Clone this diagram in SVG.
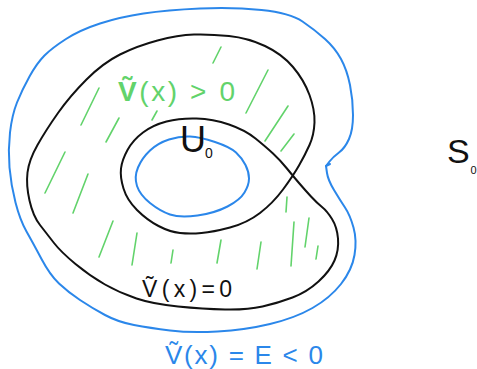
<svg xmlns="http://www.w3.org/2000/svg" width="477" height="369" viewBox="0 0 477 369">
<style>
.blk{fill:none;stroke:#111;stroke-width:2;stroke-linecap:round;stroke-linejoin:round}
.blu{fill:none;stroke:#2b87ea;stroke-width:2;stroke-linecap:round;stroke-linejoin:round}
.grn{fill:none;stroke:#62d36b;stroke-width:1.6;stroke-linecap:round}
text{font-family:"Liberation Sans","DejaVu Sans",sans-serif}
</style>
<rect width="477" height="369" fill="#fff"/>
<g id="connectors">
<path id="outer-level-E" class="blu" d="M 100,23.5 Q 120,17 143.5,13.5 Q 167,10 200,8.5 Q 233,7 261.5,10 Q 290,13 302.5,21.5 Q 315,30 325,39 Q 335,48 341,59 Q 347,70 350,85 Q 353,100 353,115 Q 353,130 349,139 Q 345,148 339,152.5 Q 333,157 329.5,161.5 L 326,166 L 327,173 Q 328,180 334,190 Q 340,200 345,207.5 Q 350,215 353.5,227.5 Q 357,240 354.5,255 Q 352,270 341,284 Q 330,298 312.5,308 Q 295,318 270,324 Q 245,330 217.5,331.5 Q 190,333 170,330.5 Q 150,328 134,325 Q 118,322 105,315 Q 92,308 80,300 Q 68,292 59,283.5 Q 50,275 41.5,259 Q 33,243 26.5,231.5 Q 20,220 15.5,202.5 Q 11,185 9.5,167.5 Q 8,150 10,132.5 Q 12,115 17,102.5 Q 22,90 29.5,76.5 Q 37,63 44.5,55.5 Q 52,48 66,39 Q 80,30 100,23.5 Z"/>
<path class="blu" d="M 326,166 L 330,164"/>
<path id="zero-level" class="blk" d="M 260,213 Q 273,203 283,189.5 Q 293,176 299,165.5 Q 305,155 309.5,145 Q 314,135 314.5,122.5 Q 315,110 309.5,95 Q 304,80 293,67 Q 282,54 265,46 Q 248,38 229,36 Q 210,34 194,34.5 Q 178,35 157.5,40.5 Q 137,46 120,54.5 Q 103,63 86.5,79.5 Q 70,96 58,113 Q 46,130 37.5,145 Q 29,160 27.5,172.5 Q 26,185 29.5,200.5 Q 33,216 40,225 Q 47,234 54,243 Q 61,252 75.5,264 Q 90,276 105,284.5 Q 120,293 136.5,298.5 Q 153,304 178,306.5 Q 203,309 225,309.5 Q 247,310 262.5,306.5 Q 278,303 292.5,297.5 Q 307,292 318.5,281.5 Q 330,271 334.5,260.5 Q 339,250 338,238.5 Q 337,227 332,219 Q 327,211 322,207 Q 317,203 311,196.5 Q 305,190 299,183 Q 293,176 286.5,168 Q 280,160 273,153.5 Q 266,147 255.5,138.5 Q 245,130 229,124.5 Q 213,119 196.5,118.5 Q 180,118 166.5,121.5 Q 153,125 143,132.5 Q 133,140 127.5,150 Q 122,160 121,168.5 Q 120,177 123.5,188.5 Q 127,200 137,210 Q 147,220 158.5,226 Q 170,232 180,233 Q 190,234 201.5,233 Q 213,232 230,227.5 Q 247,223 260,213 Z"/>
<path id="inner-level-E" class="blu" d="M 190,136.5 Q 200,137 215,142 Q 230,147 236,152.5 Q 242,158 245.5,165 Q 249,172 249,178.5 Q 249,185 244.5,192.5 Q 240,200 227.5,206.5 Q 215,213 197.5,215.5 Q 180,218 170,214.5 Q 160,211 150,203 Q 140,195 137,186 Q 134,177 138,167.5 Q 142,158 150,150.5 Q 158,143 169,139.5 Q 180,136 190,136.5 Z"/>
</g>
<g id="hatching">
<path class="grn" d="M221,47 L213,63 M268,70 L246,113 M288,106 L265,141 M294,134 L281,151 M99,88 L81,125 M119,118 L106,142 M157,111 L152,120 M65,152 L45,193 M88,174 L73,213 M113,221 L99,257 M137,233 L132,265 M173,250 L171,263 M221,240 L217,263 M261,242 L257,269 M287,197 L286,212 M294,222 L291,266 M309,218 L305,247 M318,246 L316,259"/>
</g>
<g id="label-positive">
<text x="118" y="101" font-size="28" fill="#62d36b" textLength="117" lengthAdjust="spacing"><tspan font-weight="bold">Ṽ</tspan>(x) &gt; 0</text>
</g>
<g id="label-U0">
<text x="180" y="152" font-size="36" fill="#111">U</text>
<text x="205" y="158" font-size="14" fill="#111">0</text>
</g>
<g id="label-S0">
<text x="447" y="163" font-size="34" fill="#111">S</text>
<text x="470.5" y="174" font-size="11" fill="#111">0</text>
</g>
<g id="label-zero">
<text x="142" y="297" font-size="23" fill="#111" textLength="90" lengthAdjust="spacing">Ṽ(x)=0</text>
</g>
<g id="label-E">
<text x="165" y="364" font-size="26" fill="#2b87ea" textLength="158" lengthAdjust="spacing">Ṽ(x) = E &lt; 0</text>
</g>
</svg>
